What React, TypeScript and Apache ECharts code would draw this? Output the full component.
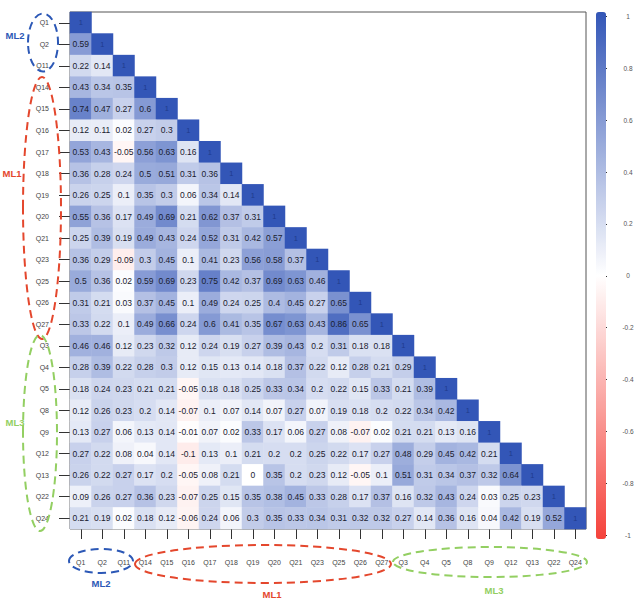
import React, { useEffect, useRef } from "react";
import * as echarts from "echarts";

const varLabels = ["Q1","Q2","Q11","Q14","Q15","Q16","Q17","Q18","Q19","Q20","Q21","Q23","Q25","Q26","Q27","Q3","Q4","Q5","Q8","Q9","Q12","Q13","Q22","Q24"];

const rowQ1 = [1];
const rowQ2 = [0.59, 1];
const rowQ11 = [0.22, 0.14, 1];
const rowQ14 = [0.43, 0.34, 0.35, 1];
const rowQ15 = [0.74, 0.47, 0.27, 0.6, 1];
const rowQ16 = [0.12, 0.11, 0.02, 0.27, 0.3, 1];
const rowQ17 = [0.53, 0.43, -0.05, 0.56, 0.63, 0.16, 1];
const rowQ18 = [0.36, 0.28, 0.24, 0.5, 0.51, 0.31, 0.36, 1];
const rowQ19 = [0.26, 0.25, 0.1, 0.35, 0.3, 0.06, 0.34, 0.14, 1];
const rowQ20 = [0.55, 0.36, 0.17, 0.49, 0.69, 0.21, 0.62, 0.37, 0.31, 1];
const rowQ21 = [0.25, 0.39, 0.19, 0.49, 0.43, 0.24, 0.52, 0.31, 0.42, 0.57, 1];
const rowQ23 = [0.36, 0.29, -0.09, 0.3, 0.45, 0.1, 0.41, 0.23, 0.56, 0.58, 0.37, 1];
const rowQ25 = [0.5, 0.36, 0.02, 0.59, 0.69, 0.23, 0.75, 0.42, 0.37, 0.69, 0.63, 0.46, 1];
const rowQ26 = [0.31, 0.21, 0.03, 0.37, 0.45, 0.1, 0.49, 0.24, 0.25, 0.4, 0.45, 0.27, 0.65, 1];
const rowQ27 = [0.33, 0.22, 0.1, 0.49, 0.66, 0.24, 0.6, 0.41, 0.35, 0.67, 0.63, 0.43, 0.86, 0.65, 1];
const rowQ3 = [0.46, 0.46, 0.12, 0.23, 0.32, 0.12, 0.24, 0.19, 0.27, 0.39, 0.43, 0.2, 0.31, 0.18, 0.18, 1];
const rowQ4 = [0.28, 0.39, 0.22, 0.28, 0.3, 0.12, 0.15, 0.13, 0.14, 0.18, 0.37, 0.22, 0.12, 0.28, 0.21, 0.29, 1];
const rowQ5 = [0.18, 0.24, 0.23, 0.21, 0.21, -0.05, 0.18, 0.18, 0.25, 0.33, 0.34, 0.2, 0.22, 0.15, 0.33, 0.21, 0.39, 1];
const rowQ8 = [0.12, 0.26, 0.23, 0.2, 0.14, -0.07, 0.1, 0.07, 0.14, 0.07, 0.27, 0.07, 0.19, 0.18, 0.2, 0.22, 0.34, 0.42, 1];
const rowQ9 = [0.13, 0.27, 0.06, 0.13, 0.14, -0.01, 0.07, 0.02, 0.33, 0.17, 0.06, 0.27, 0.08, -0.07, 0.02, 0.21, 0.21, 0.13, 0.16, 1];
const rowQ12 = [0.27, 0.22, 0.08, 0.04, 0.14, -0.1, 0.13, 0.1, 0.21, 0.2, 0.2, 0.25, 0.22, 0.17, 0.27, 0.48, 0.29, 0.45, 0.42, 0.21, 1];
const rowQ13 = [0.26, 0.22, 0.27, 0.17, 0.2, -0.05, 0.08, 0.21, 0, 0.35, 0.2, 0.23, 0.12, -0.05, 0.1, 0.51, 0.31, 0.34, 0.37, 0.32, 0.64, 1];
const rowQ22 = [0.09, 0.26, 0.27, 0.36, 0.23, -0.07, 0.25, 0.15, 0.35, 0.38, 0.45, 0.33, 0.28, 0.17, 0.37, 0.16, 0.32, 0.43, 0.24, 0.03, 0.25, 0.23, 1];
const rowQ24 = [0.21, 0.19, 0.02, 0.18, 0.12, -0.06, 0.24, 0.06, 0.3, 0.35, 0.33, 0.34, 0.31, 0.32, 0.32, 0.27, 0.14, 0.36, 0.16, 0.04, 0.42, 0.19, 0.52, 1];

const corrRows = [rowQ1, rowQ2, rowQ11, rowQ14, rowQ15, rowQ16, rowQ17, rowQ18, rowQ19, rowQ20, rowQ21, rowQ23, rowQ25, rowQ26, rowQ27, rowQ3, rowQ4, rowQ5, rowQ8, rowQ9, rowQ12, rowQ13, rowQ22, rowQ24];

const colorStops = ["#F5423B", "#FFFFFF", "#3356B7"];
const FONT = "Liberation Sans, Arial, sans-serif";

export default function App() {
  const ref = useRef<HTMLDivElement>(null);
  useEffect(() => {
    if (!ref.current) return;
    const chart = echarts.init(ref.current, null, { renderer: "svg" });
    const data: any[] = [];
    corrRows.forEach((row, r) => {
      row.forEach((v, c) => {
        const item: any = { value: [c, r, v] };
        if (r === c) item.label = { color: "#1f3b8c", fontSize: 7.5 };
        data.push(item);
      });
    });
    const ellipse = (cx: number, cy: number, rx: number, ry: number, color: string) => ({
      type: "ellipse",
      shape: { cx, cy, rx, ry },
      silent: true,
      z: 100,
      style: { fill: "transparent", stroke: color, lineWidth: 2, lineDash: [8, 5] },
    });
    const txt = (x: number, y: number, t: string, color: string) => ({
      type: "text",
      x, y,
      z: 101,
      silent: true,
      style: {
        text: t, fill: color, font: `bold 9.5px ${FONT}`,
        align: "center", verticalAlign: "middle",
        textAlign: "center", textVerticalAlign: "middle",
      },
    });
    const blue = "#2c58b6", red = "#e4472d", green = "#93cf62";
    chart.setOption({
      animation: false,
      backgroundColor: "#ffffff",
      grid: [
        { left: 70, top: 12, width: 516, height: 517, show: true, borderColor: "#555", borderWidth: 1, backgroundColor: "transparent" },
        { left: 596, top: 16.5, width: 10, height: 518.5, show: false },
      ],
      xAxis: [
        {
          type: "category", data: varLabels, gridIndex: 0,
          axisLine: { show: false },
          axisTick: { show: true, length: 10, alignWithLabel: true, lineStyle: { color: "#333" } },
          axisLabel: { fontSize: 7, color: "#444", fontFamily: FONT, margin: 30, interval: 0 },
          splitLine: { show: false },
        },
        { type: "value", gridIndex: 1, show: false, min: 0, max: 1 },
      ],
      yAxis: [
        {
          type: "category", data: varLabels, gridIndex: 0, inverse: true,
          axisLine: { show: false },
          axisTick: { show: true, length: 11, alignWithLabel: true, lineStyle: { color: "#333" } },
          axisLabel: { fontSize: 7, color: "#444", fontFamily: FONT, margin: 21, interval: 0 },
          splitLine: { show: false },
        },
        {
          type: "value", gridIndex: 1, position: "right", min: -1, max: 1, interval: 0.2,
          axisLine: { show: false },
          axisTick: { show: true, length: 11, lineStyle: { color: "#333" } },
          axisLabel: { fontSize: 6.5, color: "#555", fontFamily: FONT, margin: 22, align: "center" },
          splitLine: { show: false },
        },
      ],
      visualMap: {
        type: "continuous", min: -1, max: 1, seriesIndex: 0,
        calculable: false, hoverLink: false,
        left: 596, top: 12, itemWidth: 10, itemHeight: 527, padding: 0,
        orient: "vertical",
        inRange: { color: colorStops },
        textStyle: { fontSize: 0 },
      },
      series: [
        {
          type: "heatmap", xAxisIndex: 0, yAxisIndex: 0, data,
          label: {
            show: true, fontSize: 8.5, color: "#1a202e", fontFamily: FONT,
            formatter: (p: any) => String(p.value[2]),
          },
          itemStyle: { borderWidth: 0 },
          emphasis: { disabled: true },
        },
      ],
      graphic: [
        ellipse(43, 42.5, 15, 29, blue),
        ellipse(42, 208, 19, 131, red),
        ellipse(40, 433, 17, 98, green),
        ellipse(101, 561, 32, 12, blue),
        ellipse(263, 564, 128, 19, red),
        ellipse(490, 562, 97, 15, green),
        txt(15, 35, "ML2", blue),
        txt(12, 173, "ML1", red),
        txt(15, 422, "ML3", green),
        txt(101, 583, "ML2", blue),
        txt(272, 594, "ML1", red),
        txt(494, 590, "ML3", green),
      ],
    });
    return () => chart.dispose();
  }, []);
  return <div ref={ref} style={{ position: "absolute", left: 0, top: 0, width: 643, height: 608 }} />;
}
